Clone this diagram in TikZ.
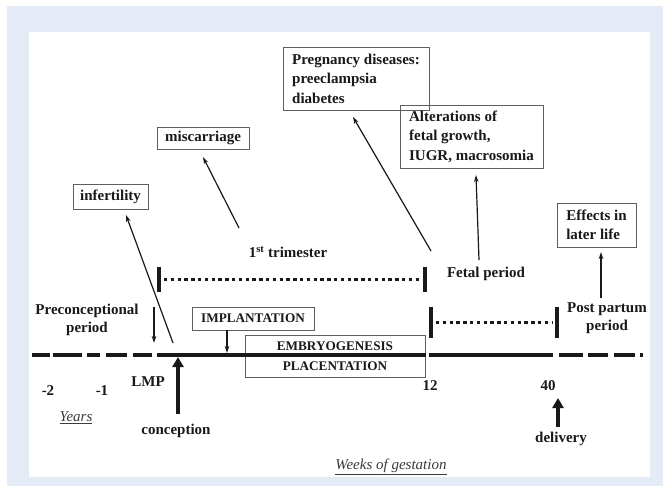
\documentclass[tikz,border=0pt]{standalone}
\usepackage{fontspec}
\setmainfont{Liberation Serif}
\usetikzlibrary{arrows.meta}
\definecolor{bgblue}{RGB}{228,234,246}
\definecolor{ink}{RGB}{25,25,25}
\definecolor{boxline}{RGB}{95,95,95}
\begin{document}
\begin{tikzpicture}[x=1pt,y=-1pt,
  lab/.style={font=\fontsize{15}{18}\selectfont\bfseries, text=ink, align=center, inner sep=0pt},
  boxed/.style={draw=boxline, line width=0.8pt, inner sep=0pt, font=\fontsize{15}{19.5}\selectfont\bfseries, text=ink, align=left},
  capbox/.style={draw=boxline, line width=0.8pt, inner sep=0pt, font=\fontsize{13.2}{20}\selectfont\bfseries, text=ink, align=center},
  thinarrow/.style={draw=ink, line width=1.2pt, -{Stealth[length=7pt,width=4.5pt]}},
  thickarrow/.style={draw=ink, line width=4pt, -{Triangle[length=10pt,width=11pt]}},
  tick/.style={draw=ink, line width=4pt},
  dotline/.style={draw=ink, line width=3pt, dash pattern=on 3.4pt off 3.4pt},
  axis/.style={draw=ink, line width=4pt},
  ital/.style={font=\fontsize{15}{18}\selectfont\itshape, text=ink!85, inner sep=0pt}
]
\useasboundingbox (0,0) rectangle (663,486);
% background
\fill[bgblue] (7,6) rectangle (663,486);
\fill[white] (29,32) rectangle (650,477);

% boxes
\node[boxed, minimum width=75pt, minimum height=25pt] (infbox) at (110.5,196.5) {infertility};
\node[boxed, minimum width=92pt, minimum height=22pt] (misbox) at (203,138) {miscarriage};
\node[boxed, minimum width=146pt, minimum height=63pt] (pregbox) at (356,78.5) {Pregnancy diseases:\\preeclampsia\\diabetes};
\node[boxed, minimum width=143pt, minimum height=63pt] (altbox) at (471.5,136.5) {Alterations of\\fetal growth,\\IUGR, macrosomia};
\node[boxed, minimum width=79pt, minimum height=44pt] (effbox) at (596.5,225) {Effects in\\later life};
\node[capbox, minimum width=122pt, minimum height=23pt] (implbox) at (253,318.5) {IMPLANTATION};
\node[capbox, minimum width=180pt, minimum height=42pt] (embbox) at (335,356) {EMBRYOGENESIS\\PLACENTATION};

% timeline
\foreach \a/\b in {32/50,53/82,87/100,106/127,133/152,157/426,429/553,559/583,588/608,614/635,640/643}
  \draw[axis] (\a,355) -- (\b,355);

% brackets
\coordinate (trA) at (159,267); \coordinate (trB) at (159,292);
\coordinate (trC) at (425,267); \coordinate (trD) at (425,292);
\draw[tick] (trA) -- (trB);
\draw[tick] (trC) -- (trD);
\coordinate (trL) at (164,279); \coordinate (trR) at (421,279);
\draw[dotline] (trL) -- (trR);
\coordinate (fpA) at (431,307); \coordinate (fpB) at (431,338);
\coordinate (fpC) at (557,307); \coordinate (fpD) at (557,338);
\draw[tick] (fpA) -- (fpB);
\draw[tick] (fpC) -- (fpD);
\coordinate (fpL) at (436,322); \coordinate (fpR) at (553,322);
\draw[dotline] (fpL) -- (fpR);

% labels
\node[lab] (precon) at (87,320) {Preconceptional\\period};
\node[lab] (trim) at (288,252) {1\textsuperscript{st} trimester};
\node[lab] (fetal) at (486,274) {Fetal period};
\node[lab] (post) at (607,318) {Post partum\\period};
\node[lab] (lmp) at (148,382) {LMP};
\node[lab] (mtwo) at (48,391) {-2};
\node[lab] (mone) at (102,391) {-1};
\node[lab] (twelve) at (430,386) {12};
\node[lab] (forty) at (548,386) {40};
\node[ital] (years) at (76,418) {\underline{Years}};
\node[lab] (concep) at (176,431) {conception};
\node[lab] (deliv) at (561,439) {delivery};
\node[ital] (weeks) at (391,467) {\underline{Weeks of gestation}};

% arrows
\coordinate (preS) at (154,307); \coordinate (preT) at (154,343);
\draw[thinarrow] (preS) -- (preT);
\coordinate (infS) at (173,343); \coordinate (infT) at (126,215);
\draw[thinarrow] (infS) -- (infT);
\coordinate (misS) at (239,228); \coordinate (misT) at (203,157);
\draw[thinarrow] (misS) -- (misT);
\coordinate (pregS) at (431,251); \coordinate (pregT) at (353,117);
\draw[thinarrow] (pregS) -- (pregT);
\coordinate (altS) at (479,260); \coordinate (altT) at (476,175);
\draw[thinarrow] (altS) -- (altT);
\coordinate (effS) at (601,298); \coordinate (effT) at (601,252);
\draw[thinarrow] (effS) -- (effT);
\coordinate (impT) at (227,353);
\draw[thinarrow] (implbox.south -| impT) -- (impT);
\coordinate (conS) at (178,414); \coordinate (conT) at (178,357);
\draw[thickarrow] (conS) -- (conT);
\coordinate (delS) at (558,427); \coordinate (delT) at (558,398);
\draw[thickarrow] (delS) -- (delT);
\end{tikzpicture}
\end{document}
